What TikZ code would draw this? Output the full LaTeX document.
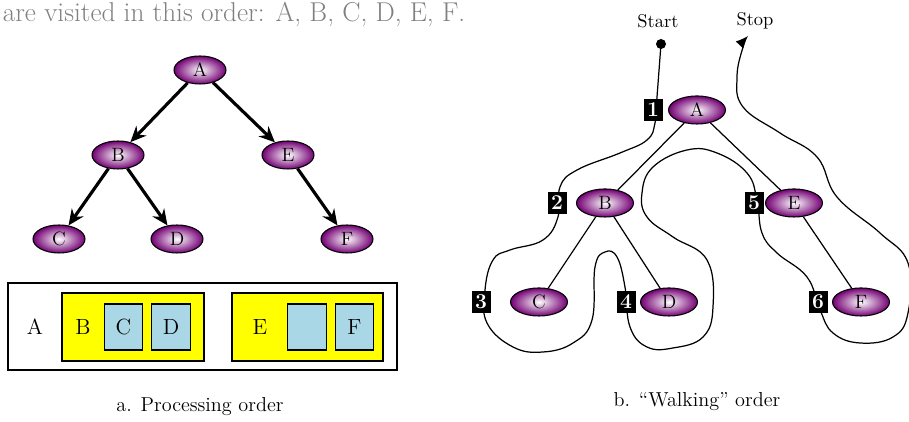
\documentclass[tikz,border=0pt]{standalone}
\usepackage{fontspec}
\usetikzlibrary{shapes.geometric,arrows.meta,positioning}
\definecolor{nodepurple}{RGB}{115,0,115}
\definecolor{boxyellow}{RGB}{255,255,0}
\definecolor{boxblue}{RGB}{170,215,230}

\begin{document}
\begin{tikzpicture}[
    treenode/.style={ellipse, draw=black, line width=0.6pt, inner color=white, outer color=nodepurple,
        minimum width=1.04cm, minimum height=0.56cm, inner sep=0pt, font=\fontsize{11}{13}\selectfont},
    walknode/.style={treenode, minimum width=1.14cm},
    stepnum/.style={fill=black, text=white, minimum width=0.38cm, minimum height=0.44cm,
        inner sep=0pt, font=\fontsize{12}{14}\selectfont\bfseries},
    treearrow/.style={line width=1.8pt, -{Stealth[length=9pt,width=8pt]}},
    walkedge/.style={line width=0.7pt},
    yellowbox/.style={draw=black, line width=0.7pt, fill=boxyellow, minimum height=1.36cm},
    bluebox/.style={draw=black, line width=0.7pt, fill=boxblue, minimum width=0.77cm,
        minimum height=0.92cm, inner sep=0pt},
    boxlabel/.style={font=\fontsize{12.5}{15}\selectfont},
    caption/.style={font=\fontsize{11.5}{14}\selectfont}
]
    \useasboundingbox (0,0) rectangle (18.18,8.44);

    % Sentence at the top
    \node[anchor=base west, inner sep=0pt, text=gray, font=\fontsize{15.5}{18}\selectfont]
        (topline) at (0.05,8.00) {are visited in this order: A, B, C, D, E, F.};

    % a. Processing order: the tree
    \node[treenode] (A) at (4.00,7.04) {A};
    \node[treenode] (B) at (2.36,5.34) {B};
    \node[treenode] (E) at (5.76,5.34) {E};
    \node[treenode] (C) at (1.18,3.66) {C};
    \node[treenode] (D) at (3.54,3.66) {D};
    \node[treenode] (F) at (6.94,3.66) {F};
    \draw[treearrow] (A) -- (B);
    \draw[treearrow] (A) -- (E);
    \draw[treearrow] (B) -- (C);
    \draw[treearrow] (B) -- (D);
    \draw[treearrow] (E) -- (F);

    % a. Processing order: nested boxes
    \node[draw=black, line width=0.7pt, minimum width=7.78cm, minimum height=1.74cm] (outer) at (4.05,1.91) {};
    \node[yellowbox, minimum width=2.84cm] (ybox1) at (2.66,1.90) {};
    \node[yellowbox, minimum width=3.02cm] (ybox2) at (6.15,1.90) {};
    \node[boxlabel] (labA) at (0.70,1.90) {A};
    \node[boxlabel] (labB) at (1.66,1.90) {B};
    \node[boxlabel] (labE) at (5.20,1.90) {E};
    \node[bluebox, boxlabel] (bC) at (2.47,1.90) {C};
    \node[bluebox, boxlabel] (bD) at (3.42,1.90) {D};
    \node[bluebox] (bEmpty) at (6.14,1.90) {};
    \node[bluebox, boxlabel] (bF) at (7.09,1.90) {F};

    \node[caption] (capA) at (4.00,0.30) {a. Processing order};

    % b. Walking order: the walk itself
    \node[circle, fill=black, inner sep=0pt, minimum size=0.2cm] (startdot) at (13.22,7.56) {};
    \coordinate (stoptip) at (14.96,7.72);
    \node[font=\fontsize{10.5}{12}\selectfont] (start) at (13.16,8.02) {Start};
    \node[font=\fontsize{10.5}{12}\selectfont] (stop) at (15.10,8.02) {Stop};
    \draw[walkedge, -{Latex[length=7pt,width=6pt]}] plot[smooth, tension=0.7] coordinates {
        (startdot.center) (13.14,6.50) (13.10,5.98) (12.94,5.64) (12.40,5.38) (11.54,5.04)
        (11.20,4.70) (11.16,4.10) (10.86,3.64) (10.20,3.44) (9.86,3.24) (9.70,2.64)
        (9.74,1.98) (10.26,1.50) (10.86,1.40) (11.46,1.58) (11.84,2.04) (11.90,3.10)
        (12.10,3.40) (12.34,3.30) (12.50,2.70) (12.60,1.90) (12.94,1.50) (13.46,1.48)
        (14.06,1.70) (14.26,2.30) (14.14,3.24) (13.46,3.70) (12.94,4.10) (12.84,4.58)
        (13.06,5.10) (13.74,5.44) (14.34,5.38) (14.94,4.98) (15.14,4.44) (15.24,3.78)
        (15.54,3.38) (16.14,2.90) (16.40,2.24) (16.66,1.78) (17.20,1.58) (17.86,1.70)
        (18.16,2.18) (18.16,3.18) (17.60,3.78) (16.74,4.50) (16.34,5.30) (15.60,5.78)
        (14.86,6.30) (14.74,6.90) (14.86,7.50) (stoptip)};

    % b. Walking order: the tree
    \node[walknode] (wA) at (13.94,6.24) {A};
    \node[walknode] (wB) at (12.10,4.38) {B};
    \node[walknode] (wE) at (15.88,4.38) {E};
    \node[walknode] (wC) at (10.78,2.40) {C};
    \node[walknode] (wD) at (13.38,2.40) {D};
    \node[walknode] (wF) at (17.22,2.40) {F};
    \draw[walkedge] (wA) -- (wB);
    \draw[walkedge] (wA) -- (wE);
    \draw[walkedge] (wB) -- (wC);
    \draw[walkedge] (wB) -- (wD);
    \draw[walkedge] (wE) -- (wF);

    % visit numbers
    \node[stepnum] (n1) at (13.06,6.24) {1};
    \node[stepnum] (n2) at (11.14,4.38) {2};
    \node[stepnum] (n3) at (9.62,2.40) {3};
    \node[stepnum] (n4) at (12.52,2.40) {4};
    \node[stepnum] (n5) at (15.08,4.38) {5};
    \node[stepnum] (n6) at (16.36,2.40) {6};

    \node[caption] (capB) at (13.94,0.40) {b. “Walking” order};
\end{tikzpicture}
\end{document}
